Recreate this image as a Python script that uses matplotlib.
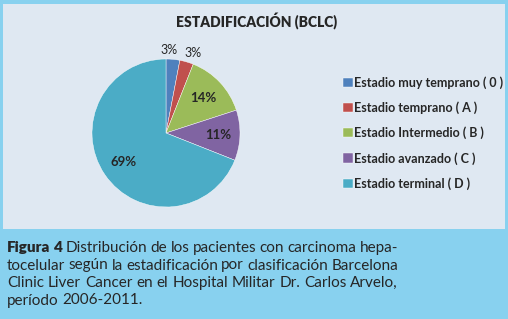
import matplotlib
matplotlib.use("Agg")
import matplotlib.pyplot as plt
import numpy as np
from matplotlib.patches import Rectangle

# datos
ETIQUETAS = [
    "Estadio muy temprano ( 0 )",
    "Estadio temprano ( A )",
    "Estadio Intermedio ( B )",
    "Estadio avanzado ( C )",
    "Estadio terminal ( D )",
]
PORCENTAJES = [3, 3, 14, 11, 69]
COLORES = ["#4f81bd", "#c0504d", "#9bbb59", "#8064a2", "#4bacc6"]

TITULO = "ESTADIFICACIÓN (BCLC)"
PIE_LINEAS = [
    ("Figura 4", "Distribución de los pacientes con carcinoma hepa-"),
    ("", "tocelular según la estadificación por clasificación Barcelona"),
    ("", "Clinic Liver Cancer en el Hospital Militar Dr. Carlos Arvelo,"),
    ("", "período 2006-2011."),
]

W, H = 508, 319
COL_FONDO = "#88d1ef"
COL_PANEL = "#dfe8f2"
COL_TEXTO = "#262626"

fig = plt.figure(figsize=(W / 100, H / 100), dpi=100, facecolor=COL_FONDO)

# panel claro del gráfico
fig.patches.append(Rectangle((3 / W, 1 - 229 / H), 502 / W, 225 / H,
                             transform=fig.transFigure, facecolor=COL_PANEL,
                             edgecolor="none", zorder=-5))

fig.text(257 / W, 1 - 21 / H, TITULO, ha="center", va="center",
         fontsize=10, fontweight="heavy", family="Lato", color=COL_TEXTO)

# tarta
cx, cy, R = 166, 133, 74
ax = fig.add_axes([(cx - 100) / W, (H - cy - 100) / H, 200 / W, 200 / H])
wedges, _ = ax.pie(PORCENTAJES, colors=COLORES, startangle=90,
                   counterclock=False, radius=1.0,
                   wedgeprops=dict(edgecolor="white", linewidth=0.3))
lim = 100 / R
ax.set_xlim(-lim, lim); ax.set_ylim(-lim, lim)
ax.axis("off")

n_peq = 0
for w, p in zip(wedges, PORCENTAJES):
    ang = np.deg2rad((w.theta1 + w.theta2) / 2)
    if p < 5:
        d = 1.13
        dx = -3.5 if n_peq == 0 else 3.0
        n_peq += 1
        fs, fw = 9, "normal"
    else:
        d, dx = 0.7, 0
        fs, fw = 9.5, "bold"
    ax.annotate(f"{p}%", (d * np.cos(ang), d * np.sin(ang)),
                xytext=(dx, 0), textcoords="offset points",
                ha="center", va="center", fontsize=fs, family="Lato",
                fontweight=fw, color=COL_TEXTO)

fig.legend(wedges, ETIQUETAS, loc="center left",
           bbox_to_anchor=(337 / W, 1 - 133 / H), frameon=False,
           prop=dict(family="Lato", size=9, weight="bold"),
           handlelength=0.75, handleheight=0.75, handletextpad=0.1,
           labelspacing=1.0, labelcolor=COL_TEXTO, borderpad=0)

# pie de figura justificado
renderer = fig.canvas.get_renderer()
x0, x1 = 7, 398
y = 248
for i, (negrita, resto) in enumerate(PIE_LINEAS):
    palabras = [(p, "heavy") for p in negrita.split()] + \
               [(p, "normal") for p in resto.split()]
    textos = []
    for p, peso in palabras:
        t = fig.text(0, 1 - y / H, p, ha="left", va="center", fontsize=11,
                     family="Lato", fontweight=peso, color=COL_TEXTO)
        textos.append(t)
    anchos = [t.get_window_extent(renderer).width for t in textos]
    ultima = i == len(PIE_LINEAS) - 1
    if ultima or len(textos) == 1:
        hueco = 4.0
    else:
        hueco = (x1 - x0 - sum(anchos)) / (len(textos) - 1)
    x = x0
    for t, a in zip(textos, anchos):
        t.set_x(x / W)
        x += a + hueco
    y += 17.5

fig.savefig("out.png", dpi=100, facecolor=COL_FONDO)
